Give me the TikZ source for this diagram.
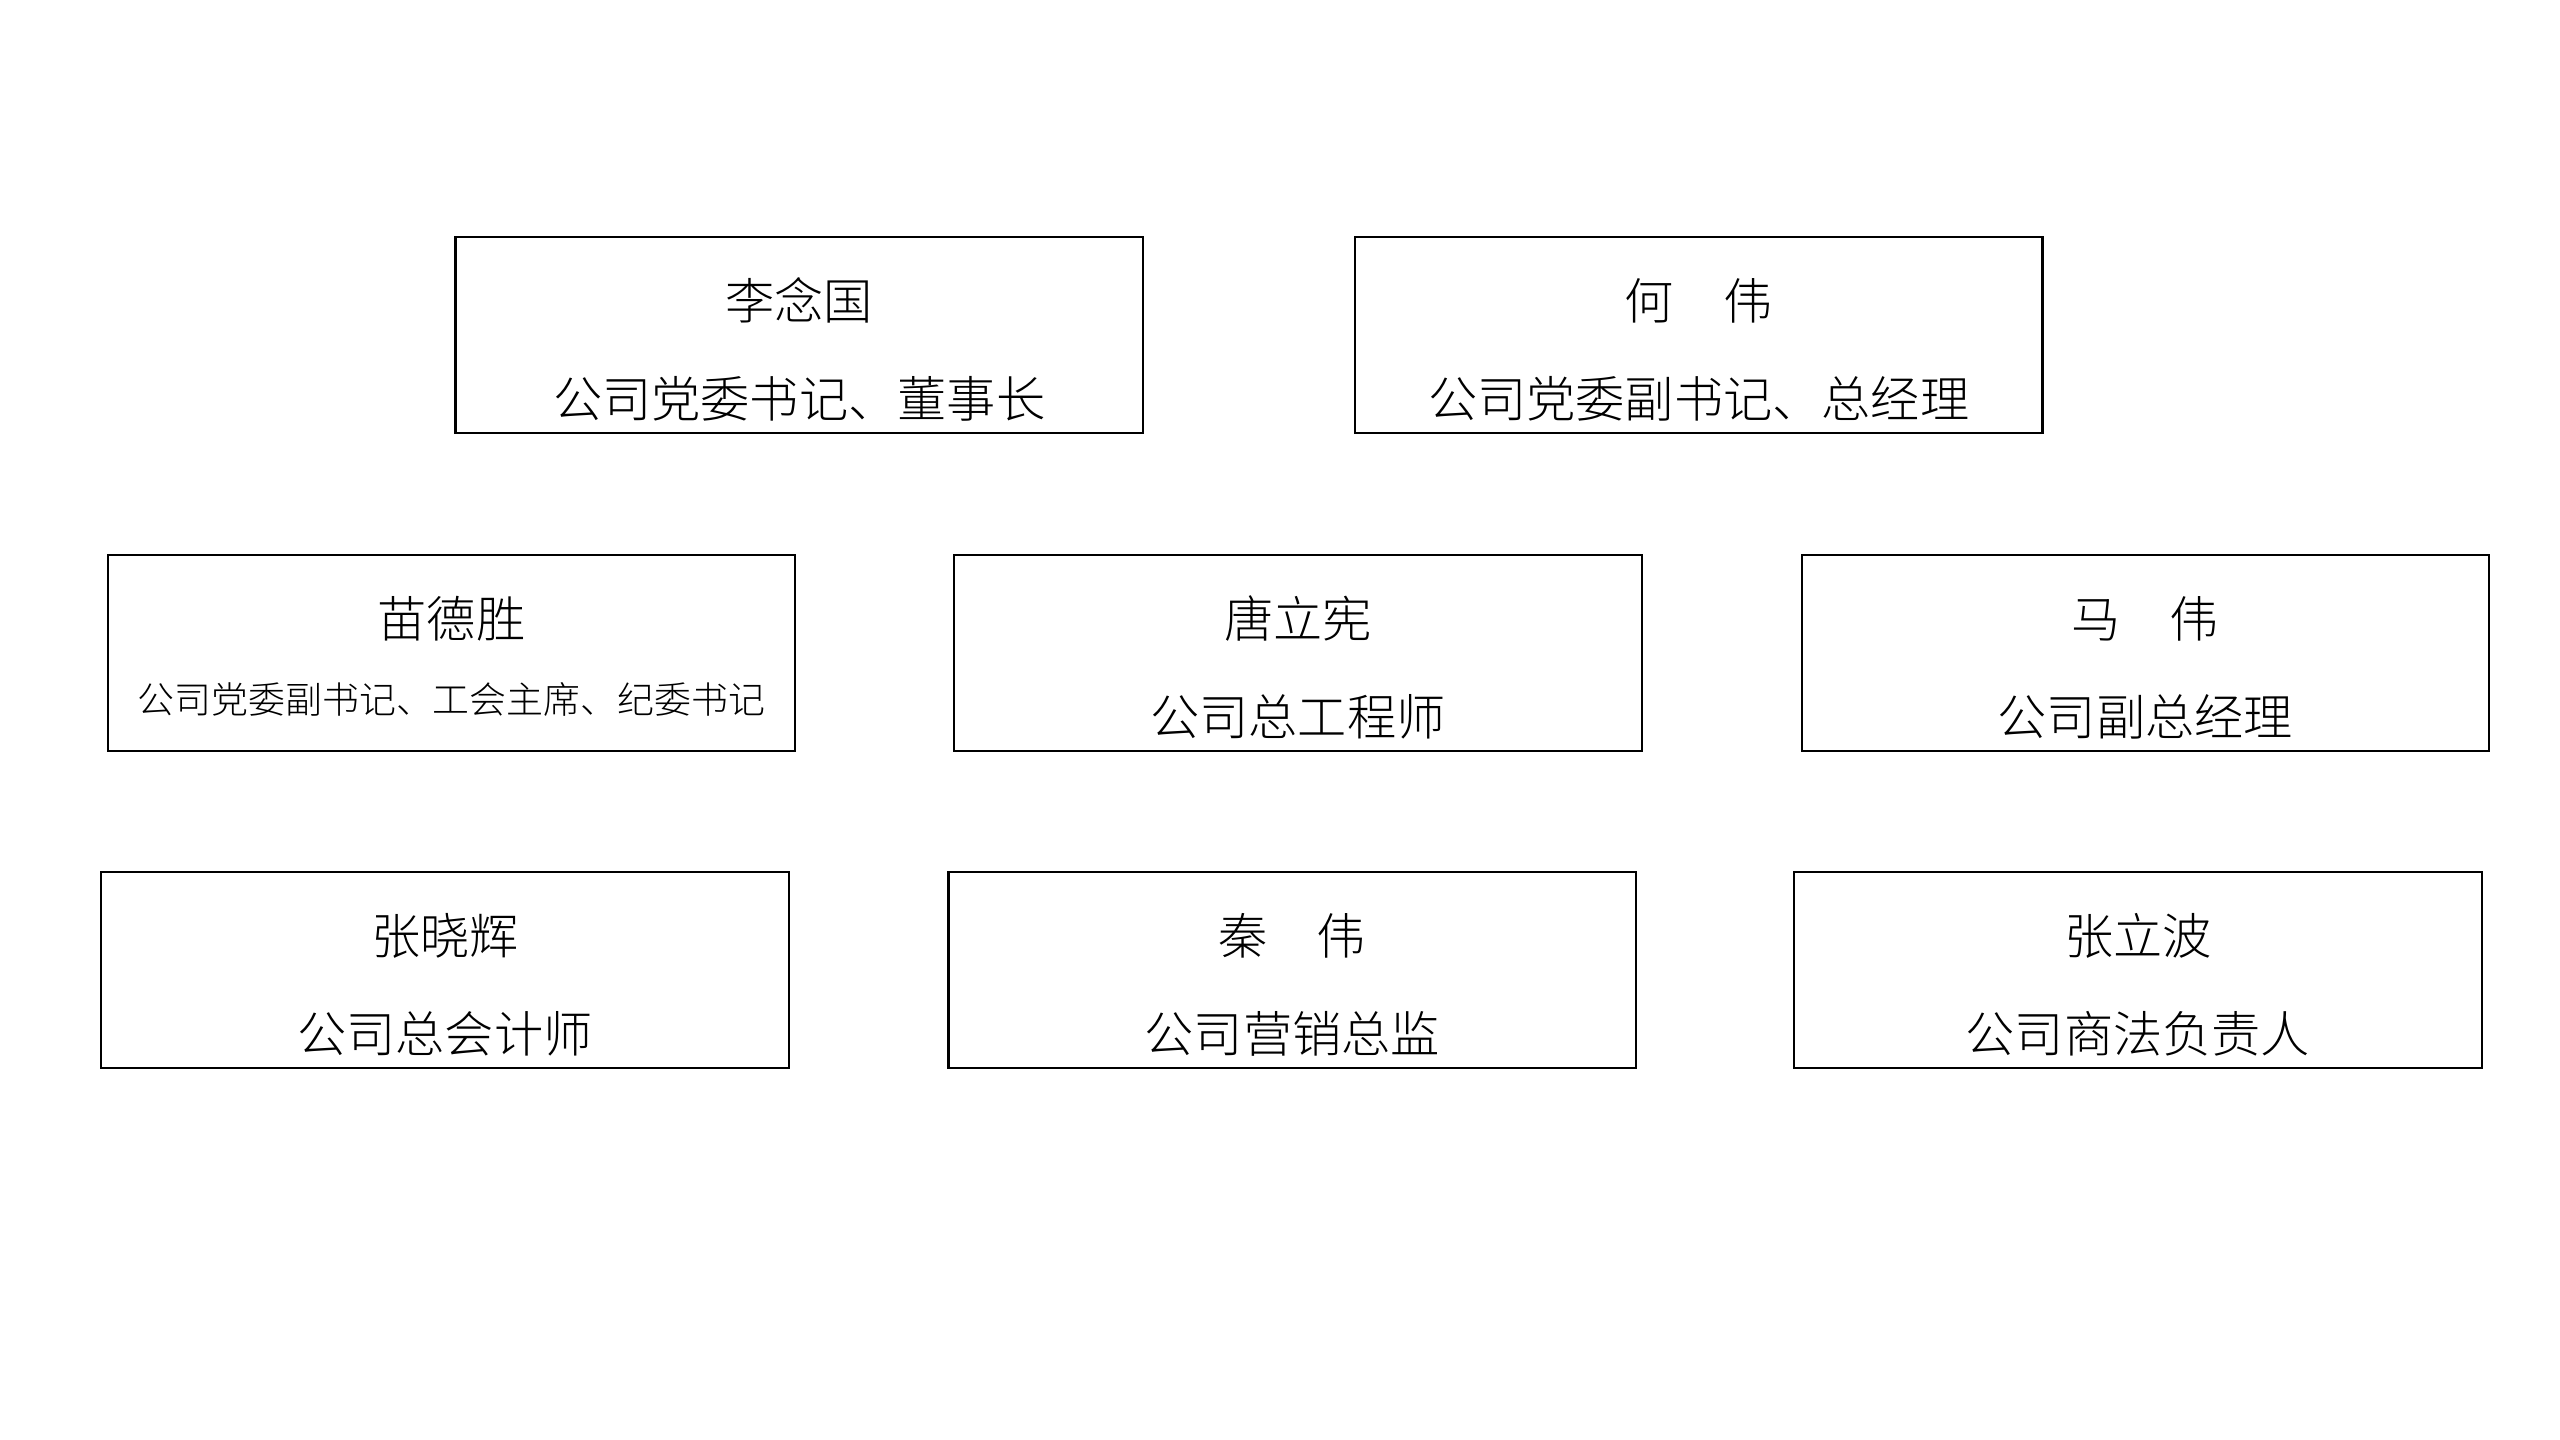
\documentclass[tikz,border=0pt]{standalone}
\usepackage{fontspec}
\newfontfamily\cjk{Noto Sans CJK SC Light}
\begin{document}
\begin{tikzpicture}[x=0.016327cm,y=-0.016327cm,
  box/.style={draw,line width=0.6pt,minimum width=6.874cm,minimum height=1.96cm,inner sep=0pt},
  nm/.style={font=\cjk\fontsize{14}{14}\selectfont,inner sep=0pt},
  tl/.style={font=\cjk\fontsize{14}{14}\selectfont,inner sep=0pt},
  sm/.style={font=\cjk\fontsize{10.5}{10.5}\selectfont,inner sep=0pt}]
\useasboundingbox (0,0) rectangle (1568,882);
\foreach \id/\cx/\cy in {a/489.5/205, b/1040.5/205, c/276.5/400, d/795/400, e/1314/400, f/272.5/594, g/791.5/594, h/1309.5/594}
  \node[box] (\id) at (\cx,\cy) {};
\node[nm] (an) at ([yshift=-0.65cm]a.north) {李念国};
\node[tl] (at) at ([yshift=-1.63cm]a.north) {公司党委书记、董事长};
\node[nm] (bn) at ([yshift=-0.65cm]b.north) {何\hspace{1em}伟};
\node[tl] (bt) at ([yshift=-1.63cm]b.north) {公司党委副书记、总经理};
\node[nm] (cn) at ([yshift=-0.65cm]c.north) {苗德胜};
\node[sm] (ct) at ([yshift=-1.45cm]c.north) {公司党委副书记、工会主席、纪委书记};
\node[nm] (dn) at ([yshift=-0.65cm]d.north) {唐立宪};
\node[tl] (dt) at ([yshift=-1.63cm]d.north) {公司总工程师};
\node[nm] (en) at ([yshift=-0.65cm]e.north) {马\hspace{1em}伟};
\node[tl] (et) at ([yshift=-1.63cm]e.north) {公司副总经理};
\node[nm] (fn) at ([yshift=-0.65cm]f.north) {张晓辉};
\node[tl] (ft) at ([yshift=-1.63cm]f.north) {公司总会计师};
\node[nm] (gn) at ([yshift=-0.65cm]g.north) {秦\hspace{1em}伟};
\node[tl] (gt) at ([yshift=-1.63cm]g.north) {公司营销总监};
\node[nm] (hn) at ([yshift=-0.65cm]h.north) {张立波};
\node[tl] (ht) at ([yshift=-1.63cm]h.north) {公司商法负责人};
\end{tikzpicture}
\end{document}
